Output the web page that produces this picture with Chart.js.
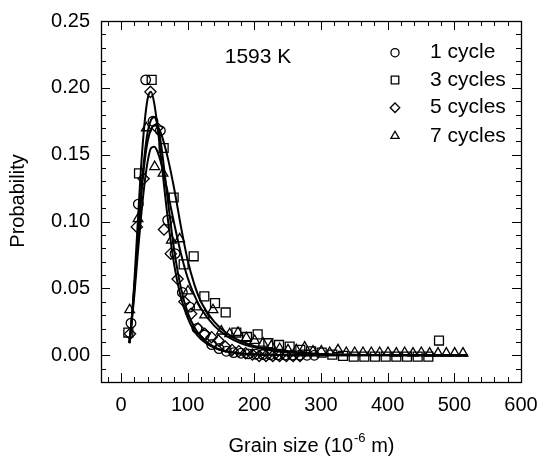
<!DOCTYPE html>
<html>
<head>
<meta charset="utf-8">
<style>
  html, body { margin: 0; padding: 0; background: #fff; }
  #wrap { width: 542px; height: 461px; }
</style>
</head>
<body>
<div id="wrap"><canvas id="myChart" width="542" height="461"></canvas></div>
<script src="https://cdn.jsdelivr.net/npm/chart.js@4/dist/chart.umd.min.js"></script>
<script>
    const seriesNames = ["1 cycle", "3 cycles", "5 cycles", "7 cycles"];
    const markerStyles = ["circle", "rect", "rectRot", "triangle"];
    const markerSizes = [4.8, 6.3, 5.6, 5.6];

    // measured points (grain size in 1e-6 m, probability)
    const grain1 = [15, 26, 37, 48, 59, 70, 81, 92, 103, 114, 125, 136, 147, 158, 169, 180, 191, 202, 213, 224, 235, 246, 257, 268, 279, 290];
    const prob1 = [0.024, 0.113, 0.206, 0.175, 0.168, 0.101, 0.076, 0.047, 0.036, 0.020, 0.015, 0.008, 0.005, 0.003, 0.002, 0.0015, 0.001, 0.0008, 0.0005, 0.0004, 0.0003, 0.0002, 0.0001, 0.0001, 0, 0];

    const grain3 = [11, 27, 46, 64, 79, 94, 109, 125, 141, 157, 173, 189, 205, 221, 237, 253, 269, 285, 301, 317, 333, 349, 365, 381, 397, 413, 429, 445, 461, 477];
    const prob3 = [0.017, 0.136, 0.206, 0.155, 0.118, 0.068, 0.074, 0.044, 0.039, 0.032, 0.017, 0.0137, 0.0156, 0.009, 0.0077, 0.0065, 0.004, 0.003, 0.002, 0.0005, -0.0005, -0.001, -0.001, -0.001, -0.001, -0.001, -0.001, -0.001, -0.001, 0.011];

    const grain5 = [13.5, 23.7, 33.9, 44.1, 54.3, 64.5, 74.7, 84.9, 95.1, 105.3, 115.5, 125.7, 135.9, 146.1, 156.3, 166.5, 176.7, 186.9, 197.1, 207.3, 217.5, 227.7, 237.9, 248.1, 258.3, 268.5];
    const prob5 = [0.016, 0.096, 0.132, 0.197, 0.170, 0.094, 0.076, 0.057, 0.040, 0.031, 0.020, 0.016, 0.0135, 0.011, 0.0065, 0.004, 0.003, 0.0015, 0.0005, -0.0005, -0.0005, -0.0005, -0.0005, -0.0005, -0.0005, -0.0005];

    const grain7 = [13, 25.5, 38, 50.5, 63, 75.5, 88, 100.5, 113, 125.5, 138, 150.5, 163, 175.5, 188, 200.5, 213, 225.5, 238, 250.5, 263, 275.5, 288, 300.5, 313, 325.5, 338, 350.5, 363, 375.5, 388, 400.5, 413, 425.5, 438, 450.5, 463, 475.5, 488, 500.5, 513];
    const prob7 = [0.034, 0.102, 0.170, 0.141, 0.136, 0.086, 0.087, 0.048, 0.036, 0.030, 0.034, 0.018, 0.016, 0.017, 0.013, 0.011, 0.009, 0.007, 0.005, 0.004, 0.004, 0.006, 0.003, 0.003, 0.002, 0.004, 0.002, 0.002, 0.002, 0.002, 0.002, 0.002, 0.0015, 0.002, 0.0015, 0.002, 0.0015, 0.0015, 0.0015, 0.0015, 0.0015];

    // fitted curves
    const fitGrain = [12.5, 15, 20, 25, 30, 35, 40, 45, 50, 55, 60, 70, 80, 90, 100, 110, 120, 140, 160, 180, 200, 225, 250, 300, 400, 520];
    const fit1 = [0.009, 0.02, 0.05, 0.085, 0.12, 0.148, 0.167, 0.176, 0.178, 0.172, 0.158, 0.117, 0.078, 0.050, 0.032, 0.021, 0.014, 0.006, 0.0027, 0.0012, 0.0006, 0.0003, 0.0001, 0, 0, 0];
    const fit3 = [0.009, 0.021, 0.05, 0.085, 0.118, 0.143, 0.16, 0.169, 0.172, 0.171, 0.166, 0.148, 0.124, 0.096, 0.071, 0.053, 0.040, 0.025, 0.016, 0.0105, 0.007, 0.0042, 0.0026, 0.001, 0.0002, 0];
    const fit5 = [0.009, 0.021, 0.055, 0.098, 0.14, 0.172, 0.192, 0.197, 0.188, 0.17, 0.148, 0.103, 0.067, 0.043, 0.028, 0.018, 0.012, 0.0055, 0.0026, 0.0013, 0.0007, 0.0003, 0.0001, 0, 0, 0];
    const fit7 = [0.009, 0.02, 0.045, 0.075, 0.103, 0.127, 0.145, 0.155, 0.156, 0.152, 0.144, 0.122, 0.098, 0.076, 0.058, 0.045, 0.035, 0.022, 0.014, 0.009, 0.006, 0.0036, 0.0022, 0.0008, 0.0002, 0];

    const xTicks = [0, 100, 200, 300, 400, 500, 600];
    const yTicks = [0, 0.05, 0.10, 0.15, 0.20, 0.25];

    const FONT = "'Liberation Sans', Arial, Helvetica, sans-serif";

    function pts(xs, ys) { return xs.map((v, i) => ({x: v, y: ys[i]})); }

    const grains = [grain1, grain3, grain5, grain7];
    const probs = [prob1, prob3, prob5, prob7];
    const fits = [fit1, fit3, fit5, fit7];

    const datasets = [];
    for (let i = 0; i < 4; i++) {
        datasets.push({
            label: seriesNames[i],
            data: pts(grains[i], probs[i]),
            showLine: false,
            pointStyle: markerStyles[i],
            pointRadius: markerSizes[i],
            pointBorderWidth: 1.3,
            pointBorderColor: "#000",
            pointBackgroundColor: "rgba(0,0,0,0)",
            order: 1
        });
    }
    for (let i = 0; i < 4; i++) {
        datasets.push({
            label: "fit " + seriesNames[i],
            data: pts(fitGrain, fits[i]),
            showLine: true,
            borderColor: "#000",
            borderWidth: 2,
            pointRadius: 0,
            cubicInterpolationMode: "monotone",
            order: 2
        });
    }

    const decor = {
        id: "decor",
        afterDraw(chart) {
            const ctx = chart.ctx;
            const a = chart.chartArea;
            const x = chart.scales.x, y = chart.scales.y;
            ctx.save();
            ctx.strokeStyle = "#000";
            ctx.lineWidth = 1;
            function seg(x1, y1, x2, y2) {
                ctx.beginPath(); ctx.moveTo(x1, y1); ctx.lineTo(x2, y2); ctx.stroke();
            }
            // inside ticks
            for (let v = -20; v <= 580; v += 20) {
                const px = Math.round(x.getPixelForValue(v)) + 0.5;
                const len = v % 100 === 0 ? 9 : 5;
                seg(px, a.bottom, px, a.bottom - len);
                seg(px, a.top, px, a.top + len);
            }
            for (let k = -1; k <= 24; k++) {
                const py = Math.round(y.getPixelForValue(k / 100)) + 0.5;
                const len = k % 5 === 0 ? 9 : 5;
                seg(a.left, py, a.left + len, py);
                seg(a.right, py, a.right - len, py);
            }
            ctx.lineWidth = 1.3;
            ctx.strokeRect(Math.round(a.left) + 0.5, Math.round(a.top) + 0.5,
                Math.round(a.right - a.left), Math.round(a.bottom - a.top));

            ctx.fillStyle = "#000";
            ctx.textBaseline = "middle";
            // temperature label
            ctx.font = "21px " + FONT;
            ctx.textAlign = "center";
            ctx.fillText("1593 K", 258, 57);

            // legend
            const rows = [52.7, 80, 107.7, 136];
            for (let i = 0; i < 4; i++) {
                ctx.fillStyle = "rgba(0,0,0,0)";
                Chart.helpers.drawPoint(ctx, {
                    pointStyle: markerStyles[i],
                    radius: markerSizes[i] * 0.85,
                    rotation: 0,
                    borderWidth: 1.3
                }, 395, rows[i]);
                ctx.fillStyle = "#000";
                ctx.textAlign = "left";
                ctx.fillText(seriesNames[i], 430, rows[i]);
            }

            // axis titles
            ctx.font = "20px " + FONT;
            ctx.textAlign = "center";
            ctx.save();
            ctx.translate(18, 201);
            ctx.rotate(-Math.PI / 2);
            ctx.fillText("Probability", 0, 0);
            ctx.restore();

            const main = "Grain size (10";
            const sup = "-6";
            const tail = " m)";
            ctx.font = "20px " + FONT;
            const w1 = ctx.measureText(main).width;
            const w3 = ctx.measureText(tail).width;
            ctx.font = "13px " + FONT;
            const w2 = ctx.measureText(sup).width;
            const cx = (a.left + a.right) / 2;
            let sx = cx - (w1 + w2 + w3) / 2;
            const ty = 446;
            ctx.textAlign = "left";
            ctx.font = "20px " + FONT;
            ctx.fillText(main, sx, ty);
            ctx.font = "13px " + FONT;
            ctx.fillText(sup, sx + w1 + 1, ty - 8);
            ctx.font = "20px " + FONT;
            ctx.fillText(tail, sx + w1 + w2 + 1, ty);
            ctx.restore();
        }
    };

    const myChart = new Chart("myChart", {
        type: "scatter",
        data: { datasets: datasets },
        options: {
            responsive: false,
            animation: false,
            layout: { padding: { top: 21, right: 21, left: 0, bottom: 0 } },
            plugins: {
                legend: { display: false },
                tooltip: { enabled: false }
            },
            scales: {
                x: {
                    type: "linear",
                    min: -30,
                    max: 600,
                    afterBuildTicks: (s) => { s.ticks = xTicks.map(v => ({value: v})); },
                    afterFit: (s) => { s.height = 79; s.paddingLeft = 0; s.paddingRight = 0; },
                    grid: { display: false, drawTicks: false },
                    border: { display: false },
                    ticks: {
                        color: "#000",
                        font: { family: FONT, size: 20 },
                        padding: 11,
                        maxRotation: 0
                    }
                },
                y: {
                    type: "linear",
                    min: -0.02,
                    max: 0.25,
                    afterBuildTicks: (s) => { s.ticks = yTicks.map(v => ({value: v})); },
                    afterFit: (s) => { s.width = 101; s.paddingTop = 0; s.paddingBottom = 0; },
                    grid: { display: false, drawTicks: false },
                    border: { display: false },
                    ticks: {
                        color: "#000",
                        font: { family: FONT, size: 20 },
                        padding: 11,
                        callback: (v) => Number(v).toFixed(2)
                    }
                }
            }
        },
        plugins: [decor]
    });
</script>
</body>
</html>
